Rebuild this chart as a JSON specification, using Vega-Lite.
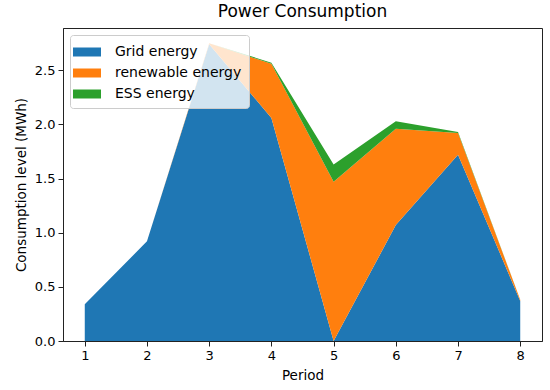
{
  "$schema": "https://vega.github.io/schema/vega-lite/v6.json",
  "width": 479,
  "height": 313,
  "autosize": {"type": "none"},
  "padding": {"left": 63, "top": 28, "right": 8, "bottom": 49},
  "background": "white",
  "title": {"text": "Power Consumption", "fontSize": 17, "font": "DejaVu Sans", "fontWeight": "normal", "color": "#000", "offset": 7},
  "config": {
    "font": "DejaVu Sans",
    "view": {"stroke": "#222", "strokeWidth": 1},
    "axis": {"labelFont": "DejaVu Sans", "titleFont": "DejaVu Sans", "labelFontSize": 13, "titleFontSize": 13.5, "titleFontWeight": "normal", "labelColor": "#000", "titleColor": "#000", "domainColor": "#222", "tickColor": "#222", "tickSize": 5, "grid": false}
  },
  "data": {"values": [
    {"period": 1, "source": "Grid energy", "value": 0.34},
    {"period": 2, "source": "Grid energy", "value": 0.92},
    {"period": 3, "source": "Grid energy", "value": 2.74},
    {"period": 4, "source": "Grid energy", "value": 2.06},
    {"period": 5, "source": "Grid energy", "value": 0.0},
    {"period": 6, "source": "Grid energy", "value": 1.07},
    {"period": 7, "source": "Grid energy", "value": 1.72},
    {"period": 8, "source": "Grid energy", "value": 0.37},
    {"period": 1, "source": "renewable energy", "value": 0.0},
    {"period": 2, "source": "renewable energy", "value": 0.0},
    {"period": 3, "source": "renewable energy", "value": 0.01},
    {"period": 4, "source": "renewable energy", "value": 0.5},
    {"period": 5, "source": "renewable energy", "value": 1.47},
    {"period": 6, "source": "renewable energy", "value": 0.89},
    {"period": 7, "source": "renewable energy", "value": 0.2},
    {"period": 8, "source": "renewable energy", "value": 0.01},
    {"period": 1, "source": "ESS energy", "value": 0.0},
    {"period": 2, "source": "ESS energy", "value": 0.0},
    {"period": 3, "source": "ESS energy", "value": 0.0},
    {"period": 4, "source": "ESS energy", "value": 0.01},
    {"period": 5, "source": "ESS energy", "value": 0.16},
    {"period": 6, "source": "ESS energy", "value": 0.07},
    {"period": 7, "source": "ESS energy", "value": 0.01},
    {"period": 8, "source": "ESS energy", "value": 0.0}
  ]},
  "transform": [
    {"calculate": "indexof(['Grid energy','renewable energy','ESS energy'], datum.source)", "as": "k"}
  ],
  "mark": {"type": "area", "opacity": 1},
  "encoding": {
    "x": {"field": "period", "type": "quantitative", "scale": {"domain": [0.65, 8.35], "nice": false, "zero": false},
      "axis": {"values": [1,2,3,4,5,6,7,8], "format": "d", "title": "Period", "labelPadding": 3, "titlePadding": 6}},
    "y": {"field": "value", "type": "quantitative", "aggregate": "sum", "stack": "zero", "scale": {"domain": [0, 2.89], "nice": false},
      "axis": {"values": [0, 0.5, 1, 1.5, 2, 2.5], "format": ".1f", "title": "Consumption level (MWh)", "labelPadding": 3, "titlePadding": 6}},
    "color": {"field": "source", "type": "nominal",
      "scale": {"domain": ["Grid energy", "renewable energy", "ESS energy"], "range": ["#1f77b4", "#ff7f0e", "#2ca02c"]},
      "legend": {"title": null, "orient": "top-left", "offset": 7, "fillColor": "rgba(255,255,255,0.8)", "strokeColor": "#ccc", "cornerRadius": 3, "padding": 7,
        "symbolType": "M-1.4,-0.45H1.4V0.45H-1.4Z", "symbolSize": 400, "symbolStrokeWidth": 0, "symbolOpacity": 1,
        "labelFontSize": 14, "labelFont": "DejaVu Sans", "labelColor": "#000", "labelOffset": 18, "rowPadding": 4}},
    "order": {"field": "k", "type": "quantitative"}
  }
}
